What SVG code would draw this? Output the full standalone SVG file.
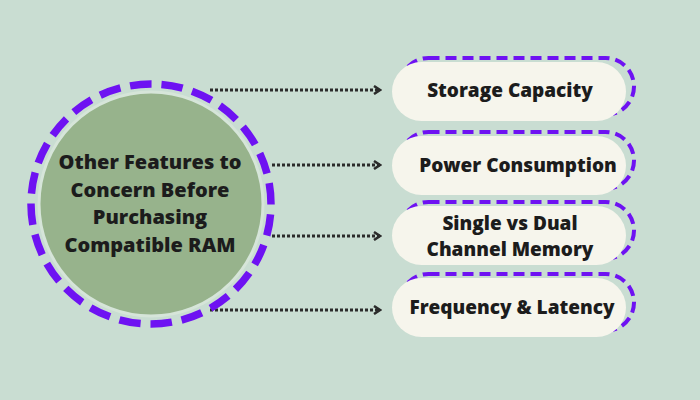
<svg xmlns="http://www.w3.org/2000/svg" width="700" height="400" viewBox="0 0 700 400">
<defs>
<style>
.t{font-family:"Open Sans","Liberation Sans",sans-serif;font-weight:800;font-size:20px;fill:#1c1c1c;text-anchor:middle}
.s{font-size:19px}
.pb{fill:none;stroke:#6e12f2;stroke-width:4;stroke-dasharray:11 6}
.pf{fill:#f6f5ec}
.c{fill:none;stroke:#2b2b2b;stroke-width:3;stroke-dasharray:3 2}
</style>
<marker id="ah" viewBox="0 0 10 10" refX="8" refY="5" markerWidth="10" markerHeight="10" markerUnits="userSpaceOnUse" orient="auto">
<path d="M2 1 L8 5 L2 9" fill="none" stroke="#2b2b2b" stroke-width="2.5"/>
</marker>
</defs>
<rect width="700" height="400" fill="#c9ddd2"/>
<g id="connectors">
<line class="c" x1="210" y1="90" x2="380" y2="90" marker-end="url(#ah)"/>
<line class="c" x1="272" y1="165" x2="380" y2="165" marker-end="url(#ah)"/>
<line class="c" x1="272" y1="236" x2="380" y2="236" marker-end="url(#ah)"/>
<line class="c" x1="210" y1="310" x2="380" y2="310" marker-end="url(#ah)"/>
</g>
<g id="center">
<circle cx="151" cy="204" r="112" fill="#97b38c" stroke="#d6e5d9" stroke-width="3"/>
<circle cx="151" cy="204" r="120" fill="none" stroke="#6e12f2" stroke-width="7.5" stroke-dasharray="21.5 9.9" transform="rotate(-100 151 204)"/>
<text class="t" x="150" y="169">Other Features to</text>
<text class="t" x="150" y="197">Concern Before</text>
<text class="t" x="150" y="224">Purchasing</text>
<text class="t" x="150" y="252">Compatible RAM</text>
</g>
<g id="n1">
<rect class="pb" x="400" y="58" width="234" height="57" rx="28.5"/>
<rect class="pf" x="392" y="62" width="234" height="59" rx="29.5"/>
<text class="t s" x="510" y="97">Storage Capacity</text>
</g>
<g id="n2">
<rect class="pb" x="400" y="132" width="234" height="57" rx="28.5"/>
<rect class="pf" x="392" y="136" width="234" height="59" rx="29.5"/>
<text class="t s" x="518" y="172">Power Consumption</text>
</g>
<g id="n3">
<rect class="pb" x="400" y="202" width="234" height="57" rx="28.5"/>
<rect class="pf" x="392" y="206" width="234" height="59" rx="29.5"/>
<text class="t s" x="510" y="230">Single vs Dual</text>
<text class="t s" x="510" y="256">Channel Memory</text>
</g>
<g id="n4">
<rect class="pb" x="400" y="274" width="234" height="57" rx="28.5"/>
<rect class="pf" x="392" y="278" width="234" height="59" rx="29.5"/>
<text class="t s" x="512" y="314">Frequency &amp; Latency</text>
</g>
</svg>
